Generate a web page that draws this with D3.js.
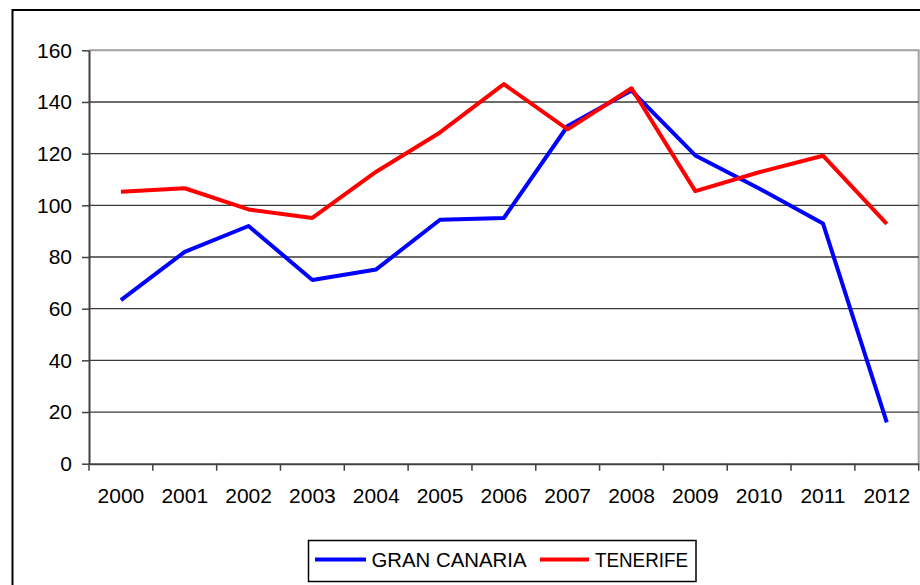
<!DOCTYPE html>
<html>
<head>
<meta charset="utf-8">
<script src="https://cdn.jsdelivr.net/npm/d3@7"></script>
<style>
html,body{margin:0;padding:0;background:#fff;}
svg{display:block;font-family:"Liberation Sans",Arial,sans-serif;}
</style>
</head>
<body>
<svg id="chart" width="920" height="585"></svg>
<script>
const years = ["2000","2001","2002","2003","2004","2005","2006","2007","2008","2009","2010","2011","2012"];
const granCanaria = [63.3, 82.0, 92.0, 71.1, 75.2, 94.4, 95.1, 130.7, 144.4, 119.3, 106.5, 93.0, 16.0];
const tenerife = [105.3, 106.6, 98.4, 95.1, 113.0, 128.2, 146.9, 129.4, 145.3, 105.5, 112.8, 119.2, 92.8];
const yTicks = [0, 20, 40, 60, 80, 100, 120, 140, 160];
const seriesNames = ["GRAN CANARIA", "TENERIFE"];
const seriesColors = ["#0000ff", "#ff0000"];

(function () {
const svg = d3.select("#chart");
const pL = 89, pR = 918.7, pT = 50.3, pB = 463.7;

const x = d3.scaleBand().domain(years).range([pL, pR]).paddingInner(0).paddingOuter(0);
const y = d3.scaleLinear().domain([0, 160]).range([pB, pT]);

// outer border (clipped by the window)
svg.append("rect").attr("x", 12.5).attr("y", 10).attr("width", 930).attr("height", 600)
  .attr("fill", "none").attr("stroke", "#000").attr("stroke-width", 2);

// plot area border top/right
svg.append("path")
  .attr("d", `M${pL},${pT}H${pR}V${pB}`)
  .attr("fill", "none").attr("stroke", "#a0a0a0").attr("stroke-width", 2);

// gridlines
svg.append("g").selectAll("line").data(yTicks.filter(t => t > 0 && t < 160)).join("line")
  .attr("x1", pL).attr("x2", pR)
  .attr("y1", d => y(d)).attr("y2", d => y(d))
  .attr("stroke", "#3a3a3a").attr("stroke-width", 1.3);

// y axis
const yAxis = d3.axisLeft(y).tickValues(yTicks).tickSize(7).tickPadding(10).tickSizeOuter(0);
const gy = svg.append("g").attr("transform", `translate(${pL},0)`).call(yAxis);
gy.select(".domain").attr("stroke", "#404040").attr("stroke-width", 2);
gy.selectAll(".tick line").attr("stroke", "#404040").attr("stroke-width", 1.5);
gy.selectAll(".tick text").attr("font-size", 21).attr("fill", "#000")
  .attr("font-family", "Liberation Sans, Arial, sans-serif");

// x axis
const xAxis = d3.axisBottom(x).tickSize(0).tickPadding(0);
const gx = svg.append("g").attr("transform", `translate(0,${pB})`).call(xAxis);
gx.select(".domain").attr("stroke", "#404040").attr("stroke-width", 2);
gx.selectAll(".tick text").attr("font-size", 21).attr("fill", "#000")
  .attr("dy", 0).attr("y", 39.5)
  .attr("font-family", "Liberation Sans, Arial, sans-serif");
// category boundary ticks
const bounds = years.map(d => x(d)).concat([pR]);
svg.append("g").selectAll("line").data(bounds).join("line")
  .attr("x1", d => d).attr("x2", d => d)
  .attr("y1", pB).attr("y2", pB + 7)
  .attr("stroke", "#404040").attr("stroke-width", 1.5);

// lines
const line = d3.line().x((d, i) => x(years[i]) + x.bandwidth() / 2).y(d => y(d));
[granCanaria, tenerife].forEach((s, i) => {
  svg.append("path").datum(s).attr("d", line)
    .attr("fill", "none").attr("stroke", seriesColors[i]).attr("stroke-width", 4)
    .attr("stroke-linejoin", "round");
});

// legend
const lg = svg.append("g");
lg.append("rect").attr("x", 308.5).attr("y", 540.5).attr("width", 387.5).attr("height", 41)
  .attr("fill", "#fff").attr("stroke", "#000").attr("stroke-width", 1.5);
const legendItems = [
  {name: seriesNames[0], color: seriesColors[0], lx1: 315, lx2: 366, tx: 371.5, tl: 155},
  {name: seriesNames[1], color: seriesColors[1], lx1: 540, lx2: 589, tx: 595, tl: 93}
];
legendItems.forEach(it => {
  lg.append("line").attr("x1", it.lx1).attr("x2", it.lx2).attr("y1", 559.5).attr("y2", 559.5)
    .attr("stroke", it.color).attr("stroke-width", 4);
  lg.append("text").attr("x", it.tx).attr("y", 567).attr("font-size", 20)
    .attr("textLength", it.tl).attr("lengthAdjust", "spacingAndGlyphs")
    .attr("fill", "#000").text(it.name);
});
})();
</script>
</body>
</html>
